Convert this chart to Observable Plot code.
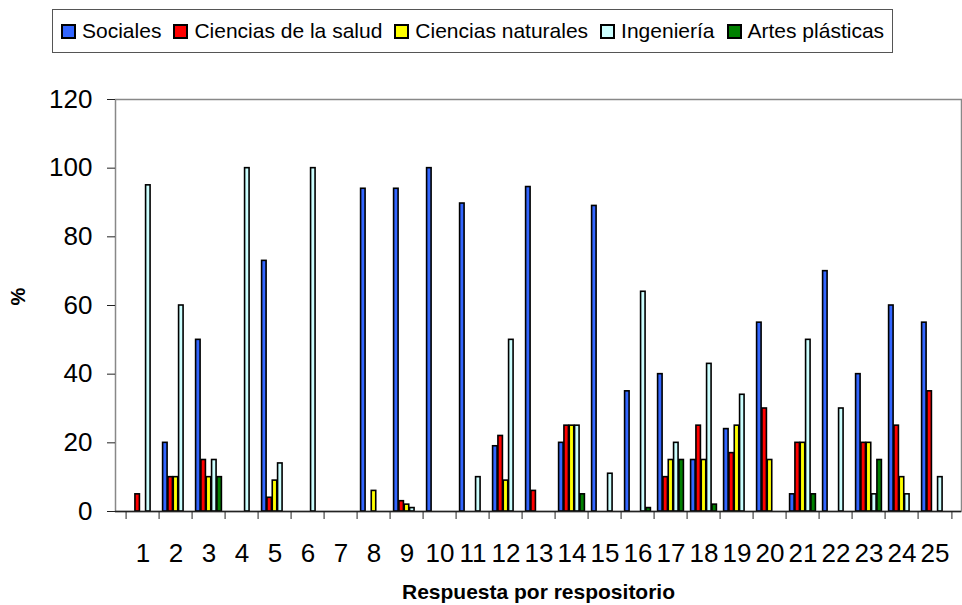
<!DOCTYPE html>
<html>
<head>
<meta charset="utf-8">
<script src="https://cdn.jsdelivr.net/npm/d3@7"></script>
<script src="https://cdn.jsdelivr.net/npm/@observablehq/plot@0.6"></script>
<style>
  html, body { margin: 0; padding: 0; background: #fff; }
  body { width: 962px; height: 605px; overflow: hidden; font-family: "Liberation Sans", Arial, sans-serif; }
  #top { position: relative; height: 60px; }
  #legend { position: absolute; left: 52px; top: 9px; height: 44px; box-sizing: border-box;
    border: 1px solid #555; display: flex; align-items: center; padding: 0 8px; white-space: nowrap;
    font-size: 21px; color: #000; }
  #legend .item { display: flex; align-items: center; margin-right: 12px; }
  #legend .item:last-child { margin-right: 0; }
  #legend .sw { display: inline-block; width: 11px; height: 11px; border: 2px solid #000; margin-right: 6px; }
  #chart svg { display: block; }
</style>
</head>
<body>
<div id="top"><div id="legend"></div></div>
<div id="chart"></div>
<script>
// ---- data ----
const reps = [1,2,3,4,5,6,7,8,9,10,11,12,13,14,15,16,17,18,19,20,21,22,23,24,25];
const seriesNames = ["Sociales", "Ciencias de la salud", "Ciencias naturales", "Ingeniería", "Artes plásticas"];
const sociales   = [0,20,50,0,73,0,0,94,94,100,89.7,19,94.5,20,89,35,40,15,24,55,5,70,40,60,55];
const salud      = [5,10,15,0,4,0,0,0,3,0,0,22,6,25,0,0,10,25,17,30,20,0,20,25,35];
const naturales  = [0,10,10,0,9,0,0,6,2,0,0,9,0,25,0,0,15,15,25,15,20,0,20,10,0];
const ingenieria = [95,60,15,100,14,100,0,0,1,0,10,50,0,25,11,64,20,43,34,0,50,30,5,5,10];
const artes      = [0,0,10,0,0,0,0,0,0,0,0,0,0,5,0,1,15,2,0,0,5,0,15,0,0];
const yTicks = [0,20,40,60,80,100,120];
const colors = ["#3366FF", "#FF0000", "#FFFF00", "#CCFFFF", "#008000"];
const xTitle = "Respuesta por respositorio";
const yTitle = "%";

// ---- legend ----
const legend = document.getElementById("legend");
seriesNames.forEach((n, i) => {
  const it = document.createElement("span"); it.className = "item";
  const sw = document.createElement("span"); sw.className = "sw"; sw.style.background = colors[i];
  const tx = document.createElement("span"); tx.textContent = n;
  it.appendChild(sw); it.appendChild(tx); legend.appendChild(it);
});

// ---- chart ----
const W = 962, H = 545, mL = 115, mR = 1, mT = 39, mB = 94;
const bw = (W - mL - mR) / reps.length;
const pad = 3.6;
const barW = (bw - 2 * pad) / seriesNames.length;
const allSeries = [sociales, salud, naturales, ingenieria, artes];

const barMarks = allSeries.map((vals, i) =>
  Plot.barY(reps.map((r, j) => ({rep: r, value: vals[j]})).filter(d => d.value > 0), {
    x: "rep", y: "value",
    fill: colors[i], stroke: "#000", strokeWidth: 1.6,
    insetLeft: pad + i * barW,
    insetRight: bw - pad - (i + 1) * barW
  })
);

const chart = Plot.plot({
  width: W, height: H,
  marginLeft: mL, marginRight: mR, marginTop: mT, marginBottom: mB,
  style: {fontFamily: "'Liberation Sans', Arial, sans-serif", fontSize: "26px", color: "#000", background: "#fff"},
  x: {type: "band", domain: reps, padding: 0, label: null},
  y: {domain: [0, 120], label: null},
  marks: [
    Plot.frame({stroke: "#888", strokeWidth: 1.5}),
    ...barMarks,
    Plot.ruleY([0], {stroke: "#222", strokeWidth: 1.5}),
    Plot.axisY(yTicks, {tickSize: 8, tickPadding: 15, line: true, stroke: "#222", label: null, fontSize: 26}),
    Plot.axisX(reps, {tickSize: 0, tickPadding: 32, label: null, fontSize: 26}),
    Plot.axisX(reps, {tickSize: 8, tickFormat: () => "", dx: -bw / 2, label: null, stroke: "#222"}),
    Plot.axisX([reps[reps.length - 1]], {tickSize: 8, tickFormat: () => "", dx: bw / 2, label: null, stroke: "#222"}),
    Plot.text([xTitle], {frameAnchor: "bottom", dy: 87, text: d => d, fontWeight: "bold", fontSize: 21, style: "letter-spacing:1.2px"}),
    Plot.text([yTitle], {frameAnchor: "left", dx: -97, rotate: -90, text: d => d, fontWeight: "bold", fontSize: 20})
  ]
});
document.getElementById("chart").appendChild(chart);
</script>
</body>
</html>
